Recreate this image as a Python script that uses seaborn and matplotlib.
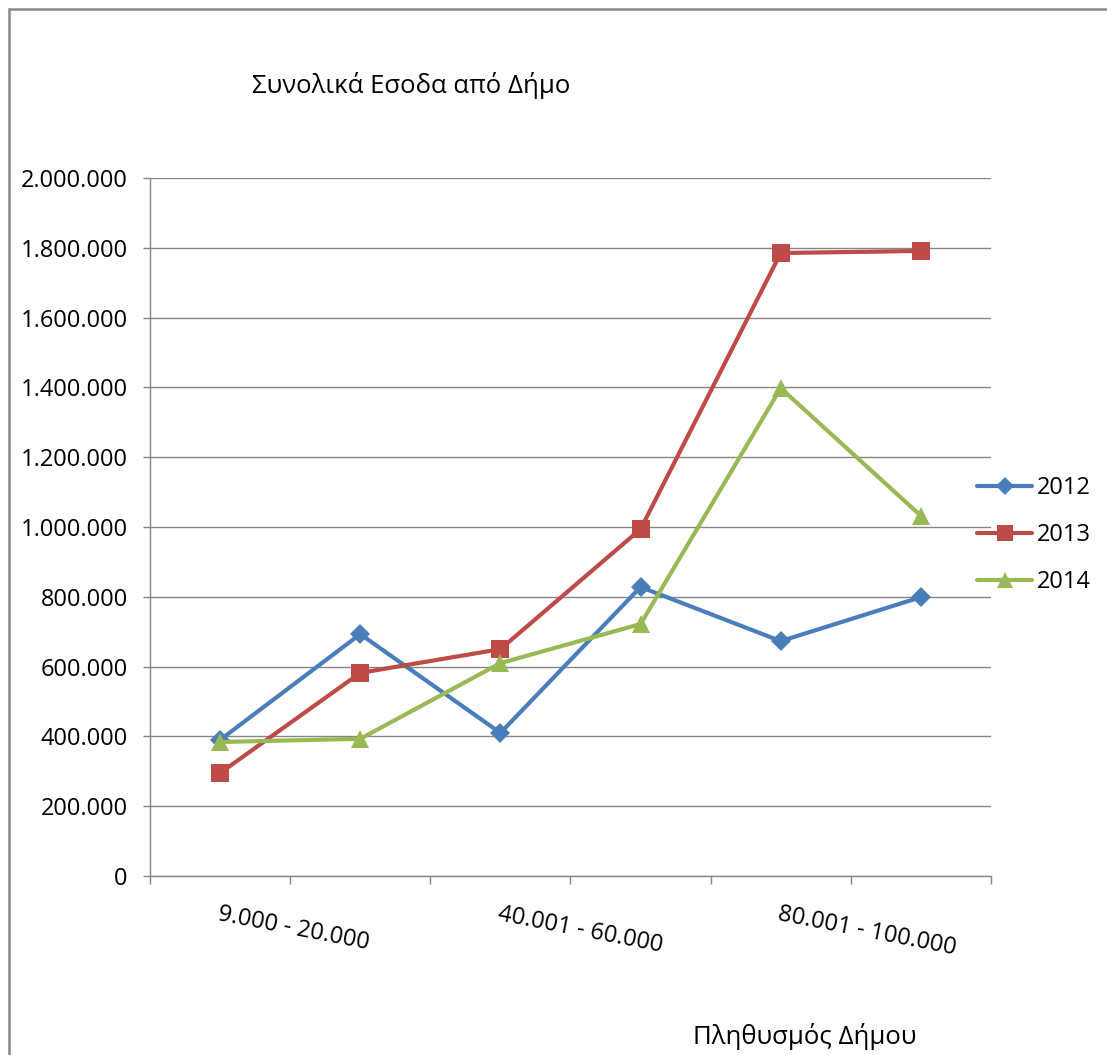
import matplotlib
matplotlib.use("Agg")
import matplotlib.pyplot as plt
import matplotlib.patches as mpatches
from matplotlib.ticker import FuncFormatter, FixedLocator
import seaborn as sns
import pandas as pd

categories = ["9.000 - 20.000", "20.001 - 40.000", "40.001 - 60.000",
              "60.001 - 80.000", "80.001 - 100.000", "> 100.000"]
shown_labels = ["9.000 - 20.000", "", "40.001 - 60.000", "", "80.001 - 100.000", ""]
years = ["2012", "2013", "2014"]
v2012 = [390000, 693000, 410000, 828000, 673000, 799000]
v2013 = [295000, 582000, 650000, 994000, 1785000, 1791000]
v2014 = [384000, 393000, 610000, 722000, 1398000, 1032000]
colors = ["#4A7EBB", "#BE4B48", "#98B954"]
title = "Συνολικά Εσοδα από Δήμο"
xlabel = "Πληθυσμός Δήμου"

rows = []
for y, vals in zip(years, [v2012, v2013, v2014]):
    for i, v in enumerate(vals):
        rows.append({"pos": i, "value": v, "year": y})
df = pd.DataFrame(rows)

sns.set_theme(style="white")
plt.rcParams["font.family"] = ["Open Sans", "DejaVu Sans"]
plt.rcParams["text.color"] = "black"
FS = 17
FS_T = 18.5

W, H = 1107, 1055
fig = plt.figure(figsize=(W / 100, H / 100), dpi=100)
ax = fig.add_axes([150 / W, 1 - 876 / H, (991 - 150) / W, (876 - 178) / H])

sns.lineplot(data=df, x="pos", y="value", hue="year", style="year",
             markers={"2012": "D", "2013": "s", "2014": "^"}, dashes=False,
             palette=dict(zip(years, colors)), linewidth=3.0,
             markersize=12, markeredgewidth=0, sort=False, ax=ax, legend=True)
for line, ms in zip(ax.get_lines()[:3], [10.5, 13, 13]):
    line.set_markersize(ms)

ax.set_xlim(-0.5, len(categories) - 0.5)
ax.set_ylim(0, 2000000)
ax.yaxis.set_major_locator(FixedLocator(range(0, 2000001, 200000)))
ax.yaxis.set_major_formatter(FuncFormatter(lambda v, p: f"{int(v):,}".replace(",", ".")))
ax.grid(axis="y", color="#868686", linewidth=1.0)
ax.grid(axis="x", visible=False)
for s in ["top", "right"]:
    ax.spines[s].set_visible(False)
for s in ["left", "bottom"]:
    ax.spines[s].set_color("#868686")
    ax.spines[s].set_linewidth(1.0)

ax.set_xticks(range(len(categories)))
ax.set_xticklabels(shown_labels)
ax.set_xticks([i - 0.5 for i in range(len(categories) + 1)], minor=True)
ax.tick_params(axis="x", which="major", length=0, pad=19, labelsize=FS, labelcolor="black")
ax.tick_params(axis="x", which="minor", length=6, width=1.0, color="#868686", direction="out", bottom=True)
ax.tick_params(axis="y", length=5, width=1.0, color="#868686", direction="out", left=True, pad=11,
               labelsize=FS, labelcolor="black")
plt.setp(ax.get_xticklabels(), rotation=-11, ha="left", va="top", rotation_mode="anchor")
ax.set_xlabel("")
ax.set_ylabel("")

h, l = ax.get_legend_handles_labels()
for hh, ms in zip(h, [9.5, 11.5, 11.5]):
    hh.set_markersize(ms)
ax.legend(h, l, loc="center left", bbox_to_anchor=(977 / W, 1 - 535 / H),
          bbox_transform=fig.transFigure, frameon=False, fontsize=FS,
          handlelength=2.35, handletextpad=0.2, labelspacing=0.97, borderpad=0,
          borderaxespad=0)

fig.text(252 / W, 1 - 85 / H, title, ha="left", va="center", fontsize=FS_T)
fig.text(693 / W, 1 - 1037 / H, xlabel, ha="left", va="center", fontsize=FS_T)

fig.patches.append(mpatches.Rectangle((9 / W, -0.05), 1.2, 1 - 9 / H + 0.05,
                                      transform=fig.transFigure, fill=False,
                                      edgecolor="#868686", linewidth=1.8, figure=fig))

fig.savefig("out.png", dpi=100, facecolor="white")
